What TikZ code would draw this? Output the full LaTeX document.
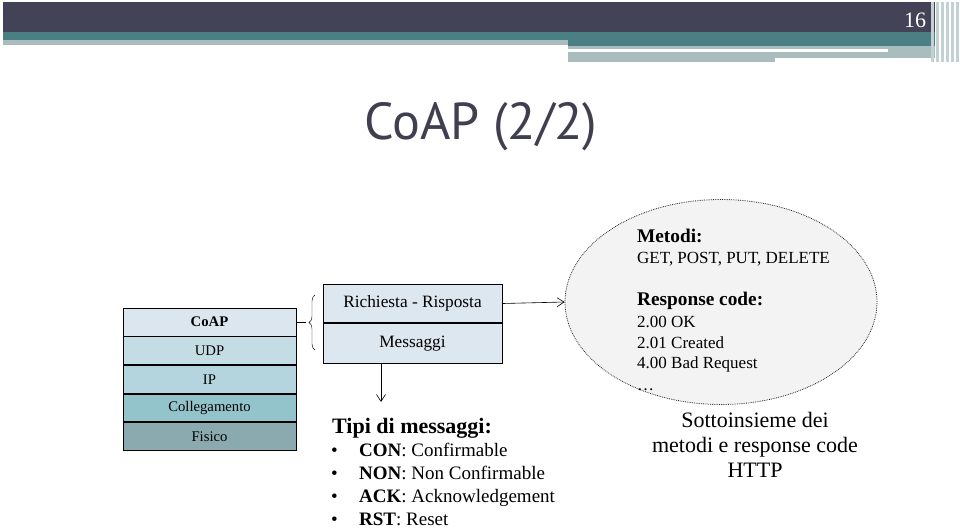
\documentclass[tikz,border=0pt]{standalone}
\usepackage{fontspec}
\setmainfont{Liberation Serif}
\newfontfamily\titlefont{PT Sans}
\usetikzlibrary{arrows.meta,positioning,shapes.geometric,decorations.pathreplacing}

\definecolor{bandDark}{HTML}{434358}
\definecolor{bandTeal}{HTML}{4A7F83}
\definecolor{bandGray}{HTML}{A9BDBE}
\definecolor{titleGray}{HTML}{3F3F50}
\definecolor{coapFill}{HTML}{DCE6EE}
\definecolor{udpFill}{HTML}{C4DCE4}
\definecolor{ipFill}{HTML}{B4D5DD}
\definecolor{linkFill}{HTML}{93C4CC}
\definecolor{physFill}{HTML}{8BAAB0}
\definecolor{boxFill}{HTML}{DCE7F0}
\definecolor{ovalFill}{HTML}{F3F3F3}

\begin{document}
\begin{tikzpicture}[x=1pt,y=-1pt,>={Straight Barb[length=7pt,width=9pt]},
  layer/.style={draw,thick,minimum width=173pt,minimum height=27.8pt,inner sep=0pt,
    font=\fontsize{14.7}{16}\selectfont},
  subbox/.style={draw,thick,fill=boxFill,minimum width=179pt,inner sep=0pt,
    font=\fontsize{17.3}{19}\selectfont},
  ovaltext/.style={anchor=base west,inner sep=0pt,font=\fontsize{17}{19}\selectfont}]
\useasboundingbox (0,0) rectangle (960,528);

% slide header
\fill[bandDark] (3,2) rectangle (935,32);
\fill[bandTeal] (3,32) rectangle (935,40);
\fill[bandGray] (3,40) rectangle (568,45);
\fill[bandTeal] (568,40) rectangle (935,46);
\fill[bandGray] (568,46) rectangle (935,62);
\fill[white] (568,49) rectangle (888,52);
\fill[white] (775,58) rectangle (935,62);
\foreach \x in {931,936,941,946,951,956}
  \fill[bandGray!70] (\x,2) rectangle ++(2.5,60);
\node[text=white,font=\fontsize{22}{24}\selectfont] (pagenum) at (915,20) {16};

% title
\node[anchor=base west,inner sep=0pt,text=titleGray,font=\titlefont\fontsize{52}{55}\selectfont]
  (title) at (364,139) {CoAP (2/2)};

% protocol stack
\node[layer,fill=coapFill] (coap) at (209.5,322) {\textbf{CoAP}};
\node[layer,fill=udpFill] (udp) [below=0pt of coap] {UDP};
\node[layer,fill=ipFill] (ip) [below=0pt of udp] {IP};
\node[layer,fill=linkFill] (link) [below=0pt of ip] {Collegamento};
\node[layer,fill=physFill] (phys) [below=0pt of link] {Fisico};

% brace
\coordinate (brace-tip) at (306,322);
\draw (coap.east) -- (brace-tip);
\draw[decorate,decoration={brace,amplitude=6pt}] (315,350) -- (315,295);

% CoAP sublayers
\node[subbox,minimum height=38pt] (rr) at (412.5,303.5) {Richiesta - Risposta};
\node[subbox,minimum height=40pt] (msg) [below=0pt of rr] {Messaggi};

% HTTP subset
\node[ellipse,draw=black!85,densely dotted,thick,fill=ovalFill,minimum width=312pt,minimum height=205pt]
  (http) at (721,302) {};
\draw[->,semithick] (rr.east) -- (http.west);

\node[ovaltext,font=\bfseries\fontsize{19.3}{20}\selectfont] (metodi) at (637,242) {Metodi:};
\node[ovaltext] (methods) at (637,263) {GET, POST, PUT, DELETE};
\node[ovaltext,font=\bfseries\fontsize{19.3}{20}\selectfont] (respcode) at (637,305) {Response code:};
\node[ovaltext] (ok) at (637,327) {2.00 OK};
\node[ovaltext] (created) at (637,348) {2.01 Created};
\node[ovaltext] (badreq) at (637,368) {4.00 Bad Request};
\node[ovaltext] (dots) at (637,390) {\dots};

\node[align=center,anchor=base,inner sep=0pt,font=\fontsize{22}{25}\selectfont]
  (subset) at (755,477) {Sottoinsieme dei\\metodi e response code\\HTTP};

% message types
\coordinate (tipi-top) at (381,402);
\draw[->,semithick] (msg.south -| tipi-top) -- (tipi-top);
\node[anchor=base west,inner sep=0pt,font=\bfseries\fontsize{22}{24}\selectfont]
  (tipi) at (332,433) {Tipi di messaggi:};
\foreach \name/\desc [count=\i] in {CON/Confirmable,NON/Non Confirmable,
    ACK/Acknowledgement,RST/Reset} {
  \node[anchor=base west,inner sep=0pt,font=\fontsize{19}{21}\selectfont]
    (bullet\i) at (331,433+23*\i) {\textbullet};
  \node[anchor=base west,inner sep=0pt,font=\fontsize{19}{21}\selectfont]
    (type\i) at (359,433+23*\i) {\textbf{\name}: \desc};
}
\end{tikzpicture}
\end{document}
